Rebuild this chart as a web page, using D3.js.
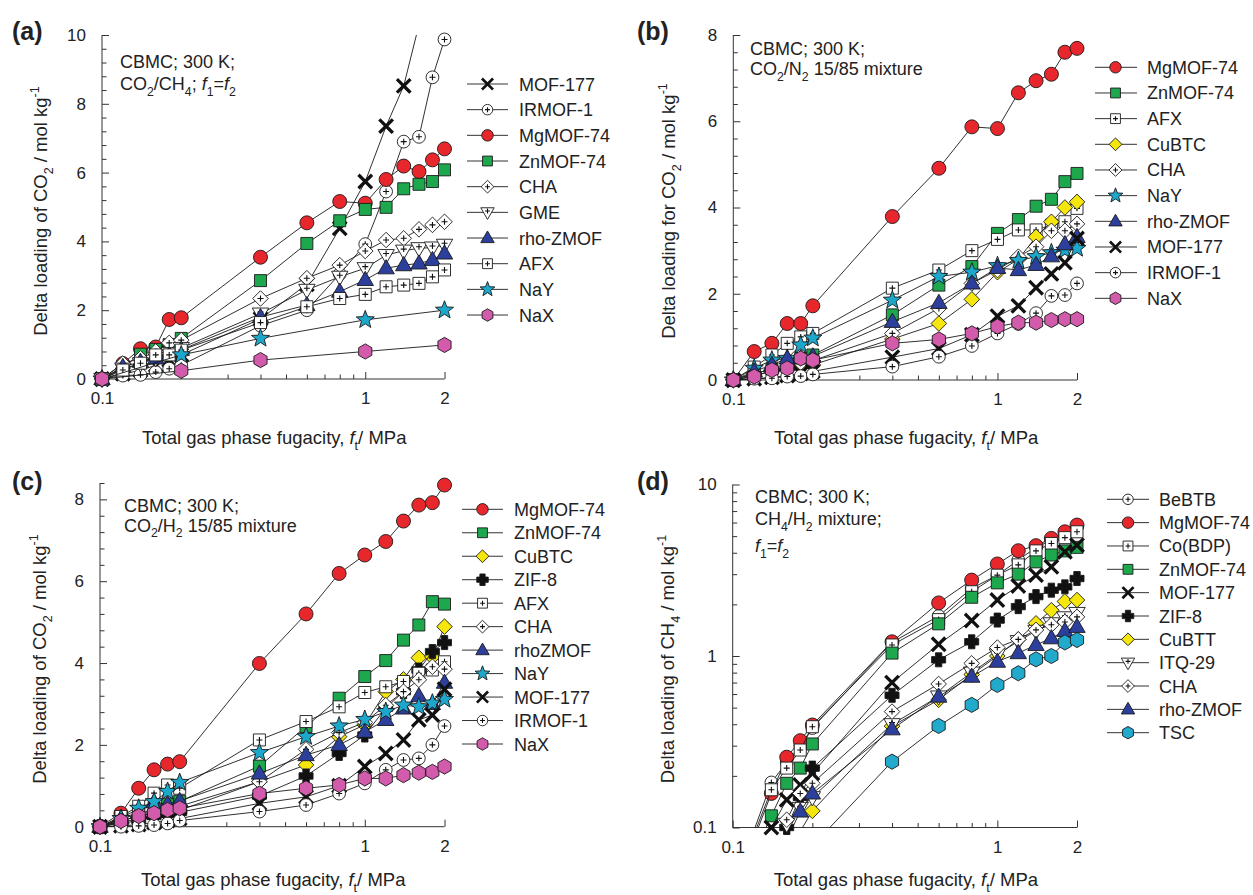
<!DOCTYPE html>
<html><head><meta charset="utf-8">
<script src="https://cdn.jsdelivr.net/npm/d3@7"></script>
<style>
body{margin:0;background:#fff}
svg{display:block}
text{font-family:"Liberation Sans",Arial,Helvetica,sans-serif;fill:#222}
</style>
</head><body>
<svg id="fig" width="1253" height="895"></svg>
<script>
// ---------- data ----------
// fugacity grids, MPa
const fGrid   = [0.1,0.12,0.14,0.16,0.18,0.2,0.4,0.6,0.8,1.0,1.2,1.4,1.6,1.8,2.0];
const fSparse = [0.1,0.2,0.4,1.0,2.0];
const xTickLabels = [0.1, 1, 2];

// (a) CO2/CH4, f1=f2
const namesA = ["MOF-177","IRMOF-1","MgMOF-74","ZnMOF-74","CHA","GME","rho-ZMOF","AFX","NaY","NaX"];
const gridA  = [fGrid,fGrid,fGrid,fGrid,fGrid,fGrid,fGrid,fGrid,fSparse,fSparse];
const loadA = [
  [0,0.15,0.25,0.4,0.55,0.7,1.75,2.75,4.38,5.74,7.35,8.52,10.3,11.5,12.6],
  [0,0.1,0.12,0.2,0.3,0.4,1.55,2.0,3.05,3.92,5.45,6.9,7.04,8.77,9.87],
  [0,0.45,0.88,0.93,1.73,1.78,3.54,4.54,5.16,5.11,5.8,6.19,6.03,6.37,6.69],
  [0,0.35,0.72,0.86,1.0,1.18,2.86,3.94,4.6,4.93,4.99,5.53,5.66,5.74,6.08],
  [0,0.45,0.6,0.8,1.05,1.13,2.34,2.93,3.31,3.72,4.04,4.09,4.35,4.48,4.57],
  [0,0.3,0.45,0.6,0.75,0.9,1.9,2.59,2.97,3.22,3.6,3.73,3.8,3.82,3.9],
  [0,0.35,0.5,0.6,0.7,0.85,1.8,2.15,2.54,2.88,3.22,3.31,3.36,3.46,3.65],
  [0,0.26,0.46,0.7,0.7,0.84,1.64,2.1,2.34,2.46,2.68,2.73,2.78,2.97,3.17],
  [0,0.7,1.18,1.72,2.0],
  [0,0.24,0.55,0.8,0.99]
];

// (b) CO2/N2 15/85
const namesB = ["MgMOF-74","ZnMOF-74","AFX","CuBTC","CHA","NaY","rho-ZMOF","MOF-177","IRMOF-1","NaX"];
const loadB = [
  [0,0.66,0.85,1.31,1.31,1.72,3.79,4.91,5.87,5.83,6.66,6.94,7.09,7.6,7.69],
  [0,0.15,0.25,0.4,0.5,0.58,1.51,2.2,2.63,3.4,3.72,4.03,4.19,4.6,4.79],
  [0,0.3,0.58,0.85,1.0,1.08,2.13,2.55,3.0,3.26,3.48,3.48,3.59,3.67,3.98],
  [0,0.1,0.2,0.25,0.3,0.35,0.95,1.31,1.87,2.5,2.8,3.32,3.67,4.0,4.13],
  [0,0.15,0.25,0.3,0.4,0.45,1.08,1.66,2.24,2.55,2.86,3.09,3.46,3.46,3.62],
  [0,0.27,0.46,0.5,0.81,0.97,1.85,2.4,2.5,2.65,2.77,2.86,2.95,3.01,3.05],
  [0,0.2,0.35,0.5,0.5,0.55,1.35,1.79,2.24,2.6,2.55,2.67,2.87,3.15,3.32],
  [0,0.03,0.06,0.1,0.15,0.2,0.53,0.73,1.05,1.48,1.72,2.14,2.46,2.72,3.28],
  [0,0.03,0.04,0.08,0.09,0.13,0.31,0.54,0.79,1.08,1.3,1.55,1.95,1.97,2.24],
  [0,0.08,0.23,0.27,0.5,0.46,0.85,0.94,1.08,1.24,1.33,1.33,1.39,1.41,1.41]
];

// (c) CO2/H2 15/85
const namesC = ["MgMOF-74","ZnMOF-74","CuBTC","ZIF-8","AFX","CHA","rhoZMOF","NaY","MOF-177","IRMOF-1","NaX"];
const loadC = [
  [0,0.33,0.94,1.39,1.53,1.59,3.99,5.2,6.19,6.64,6.97,7.47,7.86,7.92,8.35],
  [0,0.2,0.3,0.45,0.55,0.62,1.48,2.45,3.14,3.67,4.06,4.56,4.93,5.5,5.44],
  [0,0.1,0.2,0.3,0.35,0.4,1.1,1.51,2.2,2.49,3.3,3.6,4.13,4.15,4.89],
  [0,0.08,0.15,0.25,0.3,0.35,0.75,1.24,1.79,2.24,2.9,3.3,3.83,4.28,4.5],
  [0,0.25,0.5,0.82,1.02,0.94,2.12,2.57,2.93,3.28,3.42,3.55,3.75,3.83,4.03],
  [0,0.15,0.25,0.35,0.45,0.5,1.1,1.89,2.3,2.55,2.97,3.3,3.59,3.91,3.85],
  [0,0.2,0.35,0.6,0.55,0.63,1.3,1.75,2.0,2.32,2.61,2.89,3.19,3.0,3.52],
  [0,0.2,0.45,0.61,0.86,1.08,1.81,2.2,2.46,2.62,2.81,2.97,2.93,3.02,3.11],
  [0,0.02,0.05,0.1,0.15,0.2,0.57,0.73,1.0,1.47,1.79,2.12,2.61,2.73,3.36],
  [0,0.0,0.02,0.04,0.08,0.15,0.37,0.53,0.81,1.06,1.39,1.63,1.67,2.0,2.46],
  [0,0.14,0.26,0.33,0.41,0.45,0.81,0.94,1.02,1.18,1.18,1.26,1.32,1.34,1.47]
];

// (d) CH4/H2, f1=f2 (log axis; null = no point)
const namesD = ["BeBTB","MgMOF-74","Co(BDP)","ZnMOF-74","MOF-177","ZIF-8","CuBTT","ITQ-29","CHA","rho-ZMOF","TSC"];
const loadD = [
  [null,0.095,0.183,0.24,0.3,0.38,1.2,1.71,2.48,2.96,3.62,4.3,4.73,5.2,5.66],
  [null,0.085,0.158,0.257,0.321,0.396,1.21,2.04,2.77,3.44,4.11,4.4,4.85,5.3,5.8],
  [null,0.09,0.166,0.222,0.283,0.387,1.16,1.63,2.37,2.96,3.4,4.1,4.53,4.9,5.3],
  [null,0.07,0.117,0.181,0.222,0.307,1.04,1.54,2.2,2.67,3.0,3.54,3.88,4.1,4.3],
  [null,0.06,0.1,0.145,0.177,0.207,0.7,1.17,1.61,2.12,2.56,2.96,3.31,4.05,4.43],
  [null,null,0.07,0.1,0.15,0.222,0.59,0.95,1.21,1.62,1.94,2.22,2.42,2.53,2.83],
  [null,null,null,0.07,0.095,0.125,0.39,0.555,0.78,1.0,1.25,1.55,1.85,2.08,2.12],
  [null,null,0.08,0.105,0.13,0.15,0.4,0.58,0.8,1.02,1.22,1.4,1.55,1.68,1.78],
  [null,null,0.085,0.111,0.158,0.181,0.474,0.687,0.906,1.12,1.25,1.42,1.52,1.58,1.69],
  [null,null,null,0.085,0.124,0.158,0.374,0.58,0.758,0.927,1.04,1.16,1.27,1.4,1.48],
  [null,null,null,null,null,0.078,0.242,0.391,0.519,0.678,0.793,0.956,1.0,1.2,1.24]
];

// ---------- marker styles ----------
const C = {red:"#e8272c", green:"#1da84e", yellow:"#f5e60e", blue:"#2c3f9c",
           cyan:"#1ca7cb", pink:"#d35bab", tsc:"#22aacd", white:"#ffffff"};
const markerStyle = {
  "MOF-177":{shape:"x"},
  "IRMOF-1":{shape:"circleS", fill:C.white, plus:true},
  "BeBTB":{shape:"circleS", fill:C.white, plus:true},
  "MgMOF-74":{shape:"circle", fill:C.red},
  "ZnMOF-74":{shape:"square", fill:C.green},
  "CHA":{shape:"diamond", fill:C.white, plus:true},
  "GME":{shape:"triDown", fill:C.white, plus:true},
  "ITQ-29":{shape:"triDown", fill:C.white, plus:true},
  "rho-ZMOF":{shape:"triangle", fill:C.blue},
  "rhoZMOF":{shape:"triangle", fill:C.blue},
  "AFX":{shape:"square", fill:C.white, plus:true},
  "Co(BDP)":{shape:"square", fill:C.white, plus:true},
  "NaY":{shape:"star", fill:C.cyan},
  "NaX":{shape:"hexagon", fill:C.pink},
  "TSC":{shape:"hexagon", fill:C.tsc},
  "CuBTC":{shape:"diamond", fill:C.yellow},
  "CuBTT":{shape:"diamond", fill:C.yellow},
  "ZIF-8":{shape:"cross", fill:"#111"}
};

function shapePath(shape, k){
  const p = d3.path();
  if (shape==="circle" || shape==="circleS"){
    const r = (shape==="circle"?7:6.4)*k;
    p.arc(0,0,r,0,2*Math.PI); p.closePath();
  } else if (shape==="square"){
    const h=6*k; p.rect(-h,-h,2*h,2*h);
  } else if (shape==="diamond"){
    const h=7.8*k; p.moveTo(0,-h);p.lineTo(h,0);p.lineTo(0,h);p.lineTo(-h,0);p.closePath();
  } else if (shape==="triangle"){
    p.moveTo(0,-8.6*k);p.lineTo(8.2*k,5.6*k);p.lineTo(-8.2*k,5.6*k);p.closePath();
  } else if (shape==="triDown"){
    p.moveTo(0,8.6*k);p.lineTo(8.2*k,-5.6*k);p.lineTo(-8.2*k,-5.6*k);p.closePath();
  } else if (shape==="star"){
    const R=9.5*k, r=4*k;
    for(let i=0;i<10;i++){const a=-Math.PI/2+i*Math.PI/5, rr=i%2?r:R;
      i?p.lineTo(rr*Math.cos(a),rr*Math.sin(a)):p.moveTo(rr*Math.cos(a),rr*Math.sin(a));}
    p.closePath();
  } else if (shape==="hexagon"){
    const R=7.6*k;
    for(let i=0;i<6;i++){const a=-Math.PI/2+i*Math.PI/3;
      i?p.lineTo(R*Math.cos(a),R*Math.sin(a)):p.moveTo(R*Math.cos(a),R*Math.sin(a));}
    p.closePath();
  } else if (shape==="cross"){
    const a=3.2*k, b=7*k;
    p.moveTo(-a,-b);p.lineTo(a,-b);p.lineTo(a,-a);p.lineTo(b,-a);p.lineTo(b,a);p.lineTo(a,a);
    p.lineTo(a,b);p.lineTo(-a,b);p.lineTo(-a,a);p.lineTo(-b,a);p.lineTo(-b,-a);p.lineTo(-a,-a);p.closePath();
  }
  return p.toString();
}

function drawMarker(g, name, cx, cy, k){
  const st = markerStyle[name];
  const m = g.append("g").attr("transform",`translate(${cx},${cy})`);
  if (st.shape==="x"){
    const h=5.6*k;
    m.append("path").attr("d",`M${-h},${-h}L${h},${h}M${-h},${h}L${h},${-h}`)
      .attr("stroke","#111").attr("stroke-width",3.3*k).attr("stroke-linecap","square").attr("fill","none");
    return;
  }
  m.append("path").attr("d",shapePath(st.shape,k))
    .attr("fill",st.fill).attr("stroke","#1a1a1a").attr("stroke-width",0.9).attr("stroke-linejoin","round");
  if (st.plus){
    const a=3*k, oy = st.shape==="triDown" ? -1.6*k : 0;
    m.append("path").attr("d",`M${-a},${oy}H${a}M0,${oy-a}V${oy+a}`)
      .attr("stroke","#111").attr("stroke-width",1.1).attr("fill","none");
  }
}

// ---------- text helper ----------
function rich(textSel, parts, fs){
  let shift=0;
  parts.forEach(([t,m])=>{
    const small = m==="sub"||m==="sup";
    const target = m==="sub" ? fs*0.32 : m==="sup" ? -fs*0.42 : 0;
    const ts = textSel.append("tspan").text(t).attr("dy", target-shift);
    shift = target;
    if (small) ts.attr("font-size", fs*0.68);
    if (m==="i") ts.attr("font-style","italic");
  });
}

// ---------- layout ----------
const svg = d3.select("#fig");
const FS = 18, TITLE_FS = 18.5;

const yLabCO2 = [["Delta loading of CO"],["2","sub"],[" / mol kg"],["-1","sup"]];
const panels = [
  {tag:"(a)", tagX:12, tagY:40, names:namesA, grids:gridA, vals:loadA,
   x0:102, x1:444.5, yTop:35, yBot:379, yLog:false, yMax:10, xTitleY:444,
   yLab:yLabCO2, yLabX:47, yLabY:211,
   note:[[["CBMC; 300 K;"]],[["CO"],["2","sub"],["/CH"],["4","sub"],["; "],["f","i"],["1","sub"],["="],["f","i"],["2","sub"]]],
   noteX:120, noteY:[68,90],
   leg:{l0:467,l1:508,mx:487.5,tx:519,y0:84,dy:25.67}},
  {tag:"(b)", tagX:637, tagY:40, names:namesB, grids:namesB.map(()=>fGrid), vals:loadB,
   x0:733.3, x1:1077, yTop:35, yBot:380, yLog:false, yMax:8, xTitleY:444,
   yLab:[["Delta loading for CO"],["2","sub"],[" / mol kg"],["-1","sup"]], yLabX:675, yLabY:211,
   note:[[["CBMC; 300 K;"]],[["CO"],["2","sub"],["/N"],["2","sub"],[" 15/85 mixture"]]],
   noteX:750, noteY:[55,75],
   leg:{l0:1095,l1:1137,mx:1115.5,tx:1147,y0:67.3,dy:25.67}},
  {tag:"(c)", tagX:12, tagY:490, names:namesC, grids:namesC.map(()=>fGrid), vals:loadC,
   x0:100, x1:444.5, yTop:483, yBot:826.7, yLog:false, yMax:8.4, xTitleY:886,
   yLab:yLabCO2, yLabX:46, yLabY:659,
   note:[[["CBMC; 300 K;"]],[["CO"],["2","sub"],["/H"],["2","sub"],[" 15/85 mixture"]]],
   noteX:124, noteY:[511.5,531.5],
   leg:{l0:462,l1:503,mx:482.5,tx:514,y0:509.3,dy:23.47}},
  {tag:"(d)", tagX:637, tagY:490, names:namesD, grids:namesD.map(()=>fGrid), vals:loadD,
   x0:732.7, x1:1077, yTop:484.5, yBot:827.5, yLog:true, xTitleY:886,
   yLab:[["Delta loading of CH"],["4","sub"],[" / mol kg"],["-1","sup"]], yLabX:674, yLabY:659,
   note:[[["CBMC; 300 K;"]],[["CH"],["4","sub"],["/H"],["2","sub"],[" mixture;"]],[["f","i"],["1","sub"],["="],["f","i"],["2","sub"]]],
   noteX:755, noteY:[503,525,552],
   leg:{l0:1107,l1:1149,mx:1128,tx:1159,y0:499.3,dy:23.34}}
];

panels.forEach((P,pi)=>{
  const g = svg.append("g");
  const x = d3.scaleLog().domain([0.1,2]).range([P.x0,P.x1]);
  const y = P.yLog ? d3.scaleLog().domain([0.1,10]).range([P.yBot,P.yTop])
                   : d3.scaleLinear().domain([0,P.yMax]).range([P.yBot,P.yTop]);

  // axes (ticks point inward)
  const axCol="#333";
  const xMinor = d3.range(2,10).map(v=>v/10);
  const gx = g.append("g").attr("transform",`translate(0,${P.yBot})`);
  gx.call(d3.axisBottom(x).tickValues(xMinor).tickSize(-4.5).tickFormat(""));
  gx.call(g2=>g2.append("g").call(d3.axisBottom(x).tickValues(xTickLabels).tickSize(-7).tickPadding(13)
      .tickFormat(d=>d===0.1?"0.1":String(d))));
  const gy = g.append("g").attr("transform",`translate(${P.x0},0)`);
  let yMaj, yMin;
  if (P.yLog){
    yMaj=[0.1,1,10];
    yMin=[...d3.range(2,10).map(v=>v/10),...d3.range(2,10)];
  } else {
    yMaj=d3.range(0,P.yMax+0.001,2);
    yMin=d3.range(0,Math.round(P.yMax/0.4)+1).map(i=>+(i*0.4).toFixed(1)).filter(v=>Math.abs(v/2-Math.round(v/2))>1e-6);
  }
  gy.call(d3.axisLeft(y).tickValues(yMin).tickSize(-4.5).tickFormat(""));
  gy.call(g2=>g2.append("g").call(d3.axisLeft(y).tickValues(yMaj).tickSize(-7).tickPadding(16)
      .tickFormat(d=>P.yLog?(d===0.1?"0.1":String(d)):String(d))));
  g.selectAll(".domain").remove();
  g.selectAll(".tick line").attr("stroke",axCol).attr("stroke-width",1);
  g.selectAll(".tick text").attr("font-size",17).attr("fill","#222")
    .attr("font-family",'"Liberation Sans",Arial,sans-serif');
  g.append("line").attr("x1",P.x0).attr("x2",P.x1).attr("y1",P.yBot).attr("y2",P.yBot).attr("stroke",axCol);
  g.append("line").attr("x1",P.x0).attr("x2",P.x0).attr("y1",P.yTop).attr("y2",P.yBot).attr("stroke",axCol);

  // axis titles
  const xt = g.append("text").attr("x",(P.x0+P.x1)/2+1).attr("y",P.xTitleY)
    .attr("text-anchor","middle").attr("font-size",TITLE_FS);
  rich(xt,[["Total gas phase fugacity, "],["f","i"],["t","sub"],["/ MPa"]],TITLE_FS);
  const yt = g.append("text").attr("transform",`translate(${P.yLabX},${P.yLabY}) rotate(-90)`)
    .attr("text-anchor","middle").attr("font-size",TITLE_FS);
  rich(yt,P.yLab,TITLE_FS);

  // panel tag
  g.append("text").attr("x",P.tagX).attr("y",P.tagY).attr("font-size",25).attr("font-weight","bold")
    .attr("fill","#111").text(P.tag);

  // annotation
  P.note.forEach((parts,i)=>{
    const t=g.append("text").attr("x",P.noteX).attr("y",P.noteY[i]).attr("font-size",FS);
    rich(t,parts,FS);
  });

  // series
  const clipId="clip"+pi;
  svg.append("clipPath").attr("id",clipId).append("rect")
    .attr("x",P.x0).attr("y",P.yTop).attr("width",P.x1-P.x0+1).attr("height",P.yBot-P.yTop);
  const line = d3.line().x(d=>x(d[0])).y(d=>y(d[1]));
  const [yd0,yd1]=y.domain();
  P.names.forEach((name,si)=>{
    const pts = P.grids[si].map((f,i)=>[f,P.vals[si][i]]).filter(d=>d[1]!==null && d[1]!==undefined);
    g.append("path").attr("d",line(pts)).attr("fill","none").attr("stroke","#1a1a1a")
      .attr("stroke-width",0.9).attr("clip-path",`url(#${clipId})`);
    const sg=g.append("g");
    pts.filter(d=>d[1]>=yd0-1e-9 && d[1]<=yd1+1e-9).forEach(d=>drawMarker(sg,name,x(d[0]),y(d[1]),1));
  });

  // legend
  const L=P.leg;
  P.names.forEach((name,i)=>{
    const cy=L.y0+i*L.dy;
    g.append("line").attr("x1",L.l0).attr("x2",L.l1).attr("y1",cy).attr("y2",cy)
      .attr("stroke","#333").attr("stroke-width",1);
    drawMarker(g,name,L.mx,cy,0.82);
    g.append("text").attr("x",L.tx).attr("y",cy+6.5).attr("font-size",FS).text(name);
  });
});
</script>
</body></html>
